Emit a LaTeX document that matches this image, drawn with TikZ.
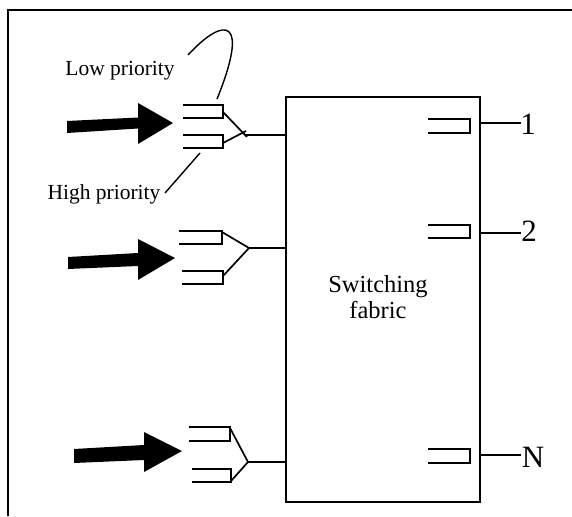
\documentclass[tikz,border=0pt]{standalone}
\usepackage{fontspec}
\setmainfont{Liberation Serif}
\begin{document}
\begin{tikzpicture}[x=1pt,y=-1pt,
  thin/.style={line width=1.7pt},
  bigarrow/.style={fill=black,draw=none},
  lab/.style={font=\fontsize{21.5}{24}\selectfont,inner sep=0pt,anchor=base},
  num/.style={font=\fontsize{31}{32}\selectfont,inner sep=0pt,anchor=base},
  fab/.style={font=\fontsize{24.5}{25.5}\selectfont,inner sep=0pt,anchor=base,align=center}]
\useasboundingbox (0,0) rectangle (572,516);
% outer frame (top and left edges)
\draw[line width=2pt] (8,516) -- (8,10) -- (572,10);
% switching fabric box
\node[draw,line width=1.9pt,minimum width=194pt,minimum height=405pt,inner sep=0pt] (sf) at (383,299.5) {};
\node[fab] (sft) at (378,318) {Switching\\fabric};
% ---- input group 1
\coordinate (j1) at (245,135);
\draw[thin] (183,105) -- (223,105) -- (223,118) -- (183,118);
\draw[thin] (183,135) -- (223,135) -- (223,148) -- (183,148);
\draw[thin] (223,112) -- (247,137);
\draw[thin] (223,143) -- (246,131);
\draw[thin] (j1) -- (j1 -| sf.west);
\fill[bigarrow] (67,121) -- (138,117.5) -- (138,103) -- (173,123) -- (138,144) -- (138,128.5) -- (67,133) -- cycle;
% ---- input group 2
\coordinate (j2) at (249,248);
\draw[thin] (179,231) -- (222,231) -- (222,244) -- (179,244);
\draw[thin] (182,271) -- (223,271) -- (223,284) -- (182,284);
\draw[thin] (222,232) -- (j2);
\draw[thin] (223,276) -- (j2);
\draw[thin] (j2) -- (j2 -| sf.west);
\fill[bigarrow] (68,257) -- (138,253) -- (138,239) -- (175,258) -- (138,280) -- (138,266) -- (68,269) -- cycle;
% ---- input group 3
\coordinate (j3) at (248,462);
\draw[thin] (189,427) -- (230,427) -- (230,441) -- (189,441);
\draw[thin] (192,469) -- (231,469) -- (231,482) -- (192,482);
\draw[thin] (230,428) -- (j3);
\draw[thin] (231,481) -- (j3);
\draw[thin] (j3) -- (j3 -| sf.west);
\fill[bigarrow] (74,449) -- (144,445) -- (144,432) -- (182,451) -- (144,472) -- (144,460) -- (74,463) -- cycle;
% ---- output queues
\draw[thin] (428,119) -- (470,119) -- (470,133) -- (428,133);
\draw[thin] (428,225) -- (470,225) -- (470,238) -- (428,238);
\draw[thin] (428,449) -- (470,449) -- (470,463) -- (428,463);
\node[num] (o1) at (528,134) {1};
\node[num] (o2) at (529,241) {2};
\node[num] (oN) at (533,467) {N};
\coordinate (e1) at (521,123);
\coordinate (e2) at (521,233);
\coordinate (eN) at (521,455);
\draw[thin] (e1 -| sf.east) -- (e1);
\draw[thin] (e2 -| sf.east) -- (e2);
\draw[thin] (eN -| sf.east) -- (eN);
% ---- labels
\node[lab] (lp) at (120,76) {Low priority};
\node[lab] (hp) at (104,199) {High priority};
\draw[line width=1.4pt] (188,55) .. controls (225,15) and (250,18) .. (217,99);
\draw[line width=1.4pt] (200,153) -- (165,193);
\end{tikzpicture}
\end{document}
